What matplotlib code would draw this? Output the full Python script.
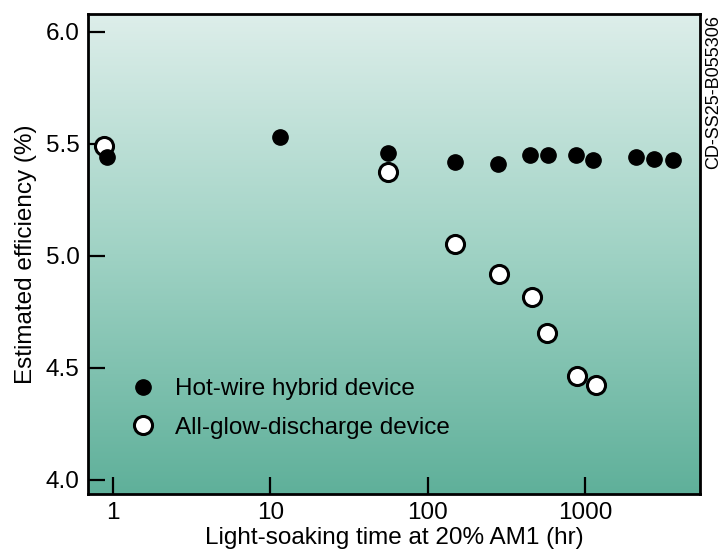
import numpy as np
import matplotlib
matplotlib.use("Agg")
import matplotlib.pyplot as plt
from matplotlib.lines import Line2D
from matplotlib.colors import LinearSegmentedColormap
from matplotlib.ticker import NullLocator, FixedLocator, FixedFormatter

plt.rcParams["font.family"] = ["Liberation Sans", "DejaVu Sans"]

# hot-wire hybrid device (filled)
hw_time = [0.92, 11.5, 55.7, 150, 281, 448, 583, 870, 1125, 2093, 2733, 3624]
hw_eff = [5.44, 5.531, 5.458, 5.418, 5.408, 5.45, 5.45, 5.45, 5.429, 5.439, 5.431, 5.429]

# all-glow-discharge device (open)
gd_time = [0.885, 56, 148, 285, 459, 572, 891, 1178]
gd_eff = [5.488, 5.376, 5.052, 4.921, 4.816, 4.658, 4.466, 4.423]

x_ticks = [1, 10, 100, 1000]
x_labels = ["1", "10", "100", "1000"]
y_ticks = [4.0, 4.5, 5.0, 5.5, 6.0]

FS = 17.5

fig = plt.figure(figsize=(7.28, 5.52), dpi=100)
ax = fig.add_axes([88 / 728, 1 - 494 / 552, 612 / 728, 480 / 552])

ax.set_xscale("log")
ax.set_xlim(0.697, 5358)
ax.set_ylim(3.9375, 6.079)

# vertical gradient background
cmap = LinearSegmentedColormap.from_list("bg", ["#5fb09a", "#9fd2c4", "#ddeeea"])
grad = np.linspace(0, 1, 256).reshape(-1, 1)
ax.imshow(grad, cmap=cmap, origin="lower", aspect="auto",
          extent=[0, 1, 0, 1], transform=ax.transAxes, zorder=0)

ax.plot(gd_time, gd_eff, "o", ms=13, mfc="white", mec="black", mew=2.2,
        linestyle="none", zorder=3)
ax.plot(hw_time, hw_eff, "o", ms=11, mfc="black", mec="black",
        linestyle="none", zorder=4)

ax.xaxis.set_major_locator(FixedLocator(x_ticks))
ax.xaxis.set_major_formatter(FixedFormatter(x_labels))
ax.xaxis.set_minor_locator(NullLocator())
ax.set_yticks(y_ticks)
ax.set_yticklabels([f"{v:.1f}" for v in y_ticks])

ax.tick_params(direction="in", length=12, width=1.6, labelsize=FS, pad=6)
for s in ax.spines.values():
    s.set_linewidth(2)

ax.set_xlabel("Light-soaking time at 20% AM1 (hr)", fontsize=FS, labelpad=2)
ax.set_ylabel("Estimated efficiency (%)", fontsize=FS, labelpad=6)

handles = [
    Line2D([], [], marker="o", ls="none", ms=11, mfc="black", mec="black"),
    Line2D([], [], marker="o", ls="none", ms=13, mfc="white", mec="black", mew=2.2),
]
ax.legend(handles, ["Hot-wire hybrid device", "All-glow-discharge device"],
          loc="upper left", bbox_to_anchor=(0.070, 0.241), frameon=False,
          fontsize=FS, handlelength=1.0, handletextpad=0.8,
          labelspacing=0.68, borderpad=0, borderaxespad=0)

fig.text(714 / 728, 1 - 92 / 552, "CD-SS25-B055306", rotation=90,
         fontsize=13, ha="center", va="center")

fig.savefig("out.png", dpi=100)
